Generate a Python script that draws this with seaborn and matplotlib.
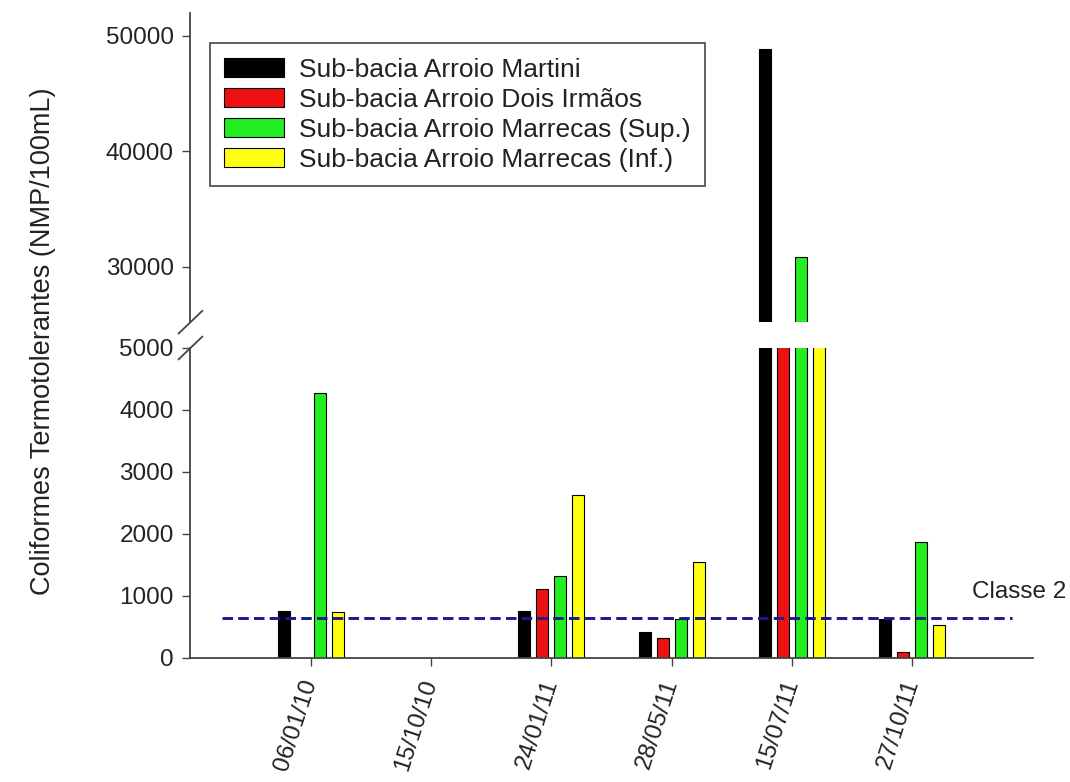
import numpy as np
import pandas as pd
import matplotlib
matplotlib.use("Agg")
import matplotlib.pyplot as plt
import seaborn as sns

# Sampling dates and sub-basins
dates = ["06/01/10", "15/10/10", "24/01/11", "28/05/11", "15/07/11", "27/10/11"]
series = [
    "Sub-bacia Arroio Martini",
    "Sub-bacia Arroio Dois Irmãos",
    "Sub-bacia Arroio Marrecas (Sup.)",
    "Sub-bacia Arroio Marrecas (Inf.)",
]
colors = ["#000000", "#ee1111", "#22ee22", "#ffff11"]

# Thermotolerant coliforms (NMP/100mL); NaN = not sampled
martini = [760, np.nan, 760, 420, 48850, 625]
dois_irmaos = [np.nan, np.nan, 1105, 310, 12000, 95]
marrecas_sup = [4270, np.nan, 1320, 620, 30840, 1860]
marrecas_inf = [735, np.nan, 2620, 1550, 9800, 520]

classe2_limit = 640

values = [martini, dois_irmaos, marrecas_sup, marrecas_inf]
df = pd.DataFrame(
    [(d, s, v) for s, vals in zip(series, values) for d, v in zip(dates, vals)],
    columns=["data", "serie", "valor"],
)

sns.set_theme(style="ticks")
plt.rcParams["font.family"] = ["Liberation Sans", "DejaVu Sans"]
txt = "#222222"
spine_c = "#444444"

fig = plt.figure(figsize=(10.70, 7.82), dpi=100)
ax_up = fig.add_axes([0.178, 0.588, 0.787, 0.396])
ax_lo = fig.add_axes([0.178, 0.159, 0.787, 0.396])

palette = dict(zip(series, colors))
common = dict(
    data=df, x="data", y="valor", hue="serie", order=dates, hue_order=series,
    palette=palette, width=0.6, gap=0.33, edgecolor="black", linewidth=0.8,
    errorbar=None, saturation=1,
)
sns.barplot(ax=ax_lo, **common)
sns.barplot(ax=ax_up, legend=False, **common)

handles, labels = ax_lo.get_legend_handles_labels()
ax_lo.legend_.remove()

for ax in (ax_up, ax_lo):
    ax.set_xlim(-1, 6)
    ax.set_xlabel("")
    ax.set_ylabel("")
    for side in ("top", "right"):
        ax.spines[side].set_visible(False)
    for side in ("left", "bottom"):
        ax.spines[side].set_color(spine_c)
        ax.spines[side].set_linewidth(1.3)
    ax.tick_params(axis="both", colors=spine_c, labelcolor=txt, labelsize=17.5,
                   length=6, width=1.0, direction="out", pad=6)

ax_up.set_ylim(25200, 52000)
ax_up.set_yticks([30000, 40000, 50000])
ax_up.spines["bottom"].set_visible(False)
ax_up.tick_params(axis="x", bottom=False, labelbottom=False)

ax_lo.set_ylim(0, 5000)
ax_lo.set_yticks([0, 1000, 2000, 3000, 4000, 5000])
ax_lo.set_xticks(range(len(dates)))
ax_lo.set_xticklabels(dates, rotation=72, ha="right", va="center",
                      rotation_mode="anchor")
ax_lo.tick_params(axis="x", pad=10)

# Classe 2 reference line
ax_lo.hlines(classe2_limit, -0.74, 5.83, colors="#1a1a8c", linewidth=2.1,
             linestyles=(0, (3.6, 1.8)), zorder=5)
ax_lo.text(5.5, classe2_limit + 420, "Classe 2", fontsize=17.5, color=txt,
           ha="left", va="center")

# Axis break marks
fig_w, fig_h = fig.get_size_inches() * fig.dpi
dx, dy = 12 / fig_w, 11.5 / fig_h
x0 = 0.178
for y0 in (0.588, 0.555):
    fig.add_artist(plt.Line2D([x0 - dx, x0 + dx], [y0 - dy, y0 + dy],
                              color=spine_c, linewidth=1.3))

fig.text(0.040, 0.563, "Coliformes Termotolerantes (NMP/100mL)", rotation=90,
         ha="center", va="center", fontsize=19.5, color=txt)

leg = fig.legend(handles, labels, loc="upper left",
                 bbox_to_anchor=(0.196, 0.945), fontsize=19, frameon=True,
                 fancybox=False, edgecolor="#555555", framealpha=1,
                 handlelength=2.27, handleheight=0.76, handletextpad=0.57,
                 labelspacing=0.23, borderpad=0.55, borderaxespad=0)
leg.get_frame().set_linewidth(1.3)
for t in leg.get_texts():
    t.set_color(txt)

fig.savefig("out.png", dpi=100)
